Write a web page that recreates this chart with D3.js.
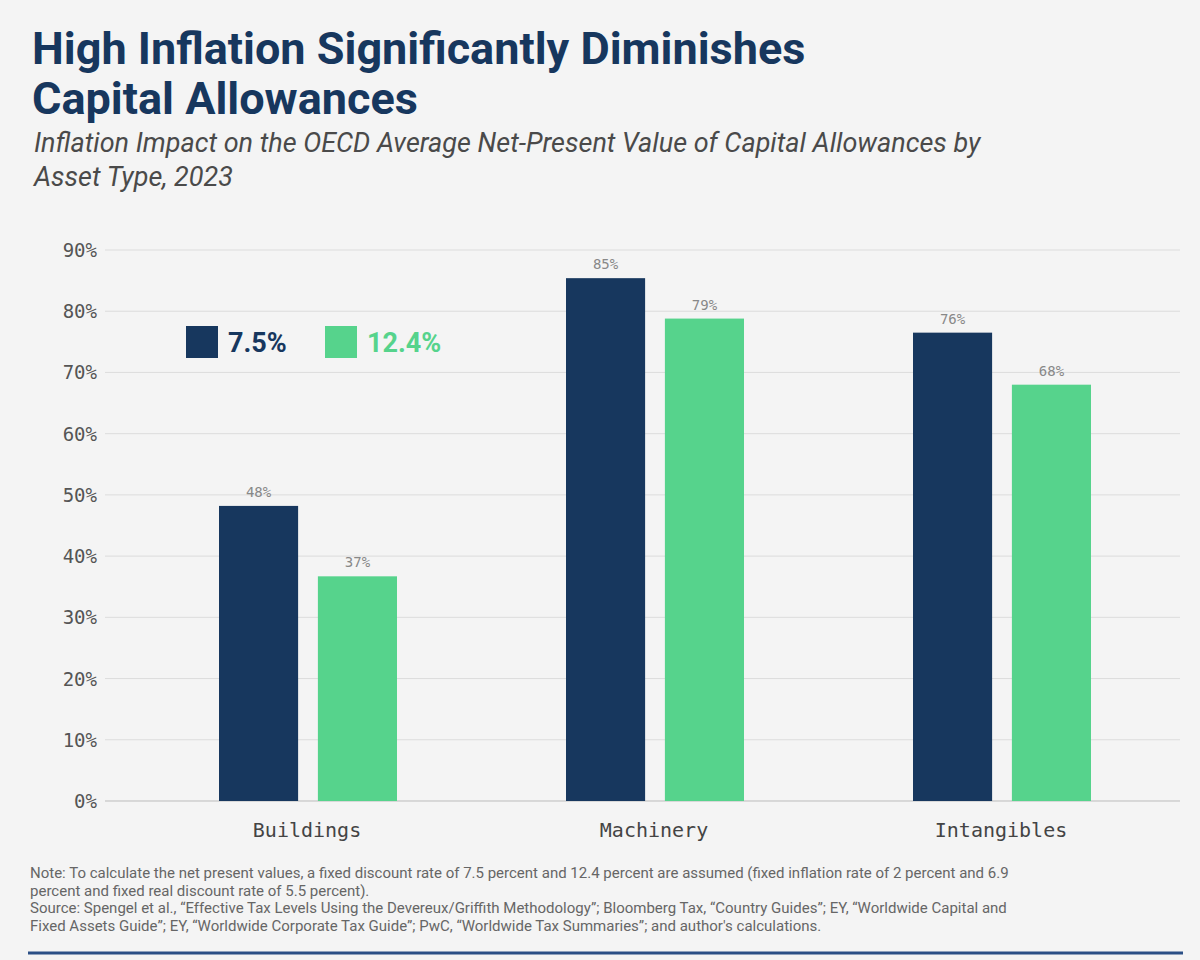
<!DOCTYPE html>
<html><head><meta charset="utf-8">
<script src="https://cdn.jsdelivr.net/npm/d3@7"></script>
<style>body{margin:0;background:#f4f4f4;}</style>
</head><body>
<svg id="c" width="1200" height="960"></svg>
<script>
const categories = ["Buildings","Machinery","Intangibles"];
const seriesNames = ["7.5%","12.4%"];
const values75 = [48.2, 85.4, 76.5];
const values124 = [36.7, 78.8, 68.0];
const valueLabels75 = ["48%","85%","76%"];
const valueLabels124 = ["37%","79%","68%"];
const yTicks = [0,10,20,30,40,50,60,70,80,90];
const colors = ["#17375e","#56d38c"];

const svg = d3.select("#c");
svg.append("rect").attr("width",1200).attr("height",960).attr("fill","#f4f4f4");
const navy="#17375e";
svg.append("text").attr("x",32).attr("y",64).attr("font-family","Roboto").attr("font-weight",700).attr("font-size",45).attr("fill",navy).text("High Inflation Significantly Diminishes");
svg.append("text").attr("x",32).attr("y",114).attr("font-family","Roboto").attr("font-weight",700).attr("font-size",45).attr("fill",navy).text("Capital Allowances");
svg.append("text").attr("x",34).attr("y",152).attr("font-family","Roboto").attr("font-style","italic").attr("font-size",27).attr("fill","#4a4a4a").text("Inflation Impact on the OECD Average Net-Present Value of Capital Allowances by");
svg.append("text").attr("x",34).attr("y",186).attr("font-family","Roboto").attr("font-style","italic").attr("font-size",27).attr("fill","#4a4a4a").text("Asset Type, 2023");

const y = d3.scaleLinear().domain([0,90]).range([801,250]);
const x = d3.scaleBand().domain(categories).range([133.5,1174.5]);
const inner = d3.scaleBand().domain(seriesNames).range([-88,90]).paddingInner(0.2).paddingOuter(0);

const grid = svg.append("g");
yTicks.forEach(t=>{
  grid.append("line").attr("x1",105).attr("x2",1180).attr("y1",y(t)).attr("y2",y(t)).attr("stroke",t===0?"#bbb":"#dcdcdc").attr("stroke-width",1);
  grid.append("text").attr("x",97).attr("y",y(t)+7).attr("text-anchor","end").attr("font-family","DejaVu Sans Mono").attr("font-size",19).attr("fill","#555").text(t+"%");
});
const series=[values75,values124], labs=[valueLabels75,valueLabels124];
series.forEach((vals,si)=>{
  categories.forEach((c,i)=>{
    const bx = x(c)+x.bandwidth()/2+inner(seriesNames[si]);
    svg.append("rect").attr("x",bx).attr("width",inner.bandwidth()).attr("y",y(vals[i])).attr("height",y(0)-y(vals[i])).attr("fill",colors[si]);
    svg.append("text").attr("x",bx+inner.bandwidth()/2).attr("y",y(vals[i])-9).attr("text-anchor","middle").attr("font-family","DejaVu Sans Mono").attr("font-size",14).attr("fill","#888").text(labs[si][i]);
  });
});
categories.forEach(c=>{
  svg.append("text").attr("x",x(c)+x.bandwidth()/2).attr("y",837).attr("text-anchor","middle").attr("font-family","DejaVu Sans Mono").attr("font-size",20).attr("fill","#444").text(c);
});
// legend
[[186,0],[325,1]].forEach(([lx,i])=>{
  svg.append("rect").attr("x",lx).attr("y",326).attr("width",32).attr("height",32).attr("fill",colors[i]);
  svg.append("text").attr("x",lx+42).attr("y",352).attr("font-family","Roboto").attr("font-weight",700).attr("font-size",27).attr("fill",colors[i]).text(seriesNames[i]);
});
const notes=["Note: To calculate the net present values, a fixed discount rate of 7.5 percent and 12.4 percent are assumed (fixed inflation rate of 2 percent and 6.9",
"percent and fixed real discount rate of 5.5 percent).",
"Source: Spengel et al., \u201cEffective Tax Levels Using the Devereux/Griffith Methodology\u201d; Bloomberg Tax, \u201cCountry Guides\u201d; EY, \u201cWorldwide Capital and",
"Fixed Assets Guide\u201d; EY, \u201cWorldwide Corporate Tax Guide\u201d; PwC, \u201cWorldwide Tax Summaries\u201d; and author's calculations."];
notes.forEach((n,i)=>svg.append("text").attr("x",30).attr("y",878+i*17.5).attr("font-family","Roboto").attr("font-size",15).attr("fill","#666").text(n));
svg.append("line").attr("x1",28).attr("x2",1183).attr("y1",953).attr("y2",953).attr("stroke","#2b4f86").attr("stroke-width",3);
</script>
</body></html>
